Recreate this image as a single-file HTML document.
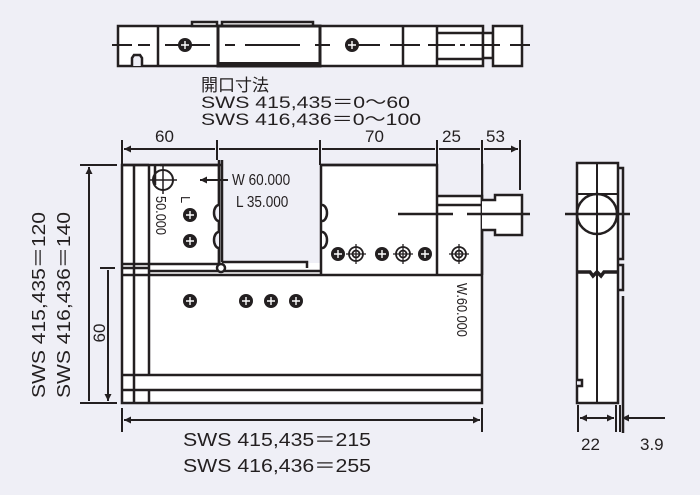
<!DOCTYPE html>
<html><head><meta charset="utf-8"><style>
html,body{margin:0;padding:0;background:#efeff6;}
svg{display:block}
text{font-family:"Liberation Sans","Noto Sans CJK JP",sans-serif;fill:#231f20}
</style></head><body>
<svg width="700" height="495" viewBox="0 0 700 495" xmlns="http://www.w3.org/2000/svg">
<defs>
<marker id="a" viewBox="0 0 10 10" refX="10" refY="5" markerWidth="10" markerHeight="7" orient="auto-start-reverse" markerUnits="userSpaceOnUse"><path d="M0,0L10,5L0,10z" fill="#231f20"/></marker>
</defs>
<g stroke="#231f20" stroke-width="2.5" fill="none">
<rect x="118" y="26" width="365" height="40" fill="#fff"/>
<rect x="192" y="22" width="25" height="4" fill="#fff"/>
<rect x="222" y="22" width="91" height="4" fill="#fff"/>
<rect x="218" y="26" width="102" height="40" stroke-width="3"/>
<line x1="218" y1="64" x2="320" y2="64" stroke-width="4"/>
<line x1="158" y1="26" x2="158" y2="66"/>
<line x1="403" y1="26" x2="403" y2="66"/>
<line x1="437" y1="26" x2="437" y2="66"/>
<line x1="437" y1="33" x2="483" y2="33"/><line x1="437" y1="59" x2="483" y2="59"/>
<rect x="483" y="33" width="10" height="25" fill="#fff"/>
<rect x="493" y="26" width="29" height="40" fill="#fff"/>
<path d="M132,66V58L134,55H140L142,58V66" fill="#efeff6"/>
<path d="M112,45H132M138,45H150M165,45H210M225,45H235M245,45H300M315,45H330M345,45H380M390,45H420M428,45H455M460,45H465M470,45H500M510,45H530" stroke-width="2"/>
<rect x="122" y="165" width="360" height="238" fill="#fff"/>
<rect x="222" y="163" width="99" height="100" fill="#efeff6" stroke="none"/>
<rect x="437" y="163" width="46" height="33" fill="#efeff6" stroke="none"/>
<path d="M122,165H149M149,165V265M155,165V185M160,165H219V265" />
<path d="M134,165V403M149,265V375M149,390V403"/>
<path d="M122,264H222M122,268H149M149,271H320M122,275H482"/>
<path d="M219,160V270M222,160V262M222,262H307V268" />
<path d="M321,165H437V275M321,165V275M437,196H482V275M437,205H482"/>
<path d="M122,375H482M122,390H482"/>
<circle cx="221" cy="268" r="4" fill="#fff"/>
<path d="M219,205a5,8 0 0 0 0,16M219,232a5,8 0 0 0 0,16" fill="#efeff6"/>
<path d="M322,205a5,8 0 0 1 0,16M322,232a5,8 0 0 1 0,16" fill="#fff"/>
<path d="M482,200H495V195H522V235H495V230H482" fill="#fff"/>
<path d="M398,214H453M467,214H530"/>
<circle cx="163" cy="180" r="10" stroke-width="2"/>
<path d="M150,180H177M163,166V194" stroke-width="1.5"/>
<path d="M122,140V165M217,140V160M320,140V165M437,140V165M482,140V196M520,140V190" stroke-width="2"/>
<path d="M124,149H215M219,149H318M322,149H435M439,149H480M484,149H518" stroke-width="2" marker-start="url(#a)" marker-end="url(#a)"/>
<path d="M80,165H117M80,403H117M100,268H115" stroke-width="2"/>
<path d="M89,167V401M108,270V401" stroke-width="2" marker-start="url(#a)" marker-end="url(#a)"/>
<path d="M122,408V432M482,408V432" stroke-width="2"/>
<path d="M124,420H480" stroke-width="2" marker-start="url(#a)" marker-end="url(#a)"/>
<path d="M228,180H200" stroke-width="2" marker-end="url(#a)"/>
<rect x="577" y="163" width="41" height="240" fill="#fff"/>
<path d="M577,194H618M597,163V403" stroke-width="2"/>
<circle cx="597" cy="214" r="20"/>
<path d="M565,214H630"/>
<path d="M619,168H623V259H619M619,265H623V290H619M623,296V433" />
<path d="M577,272H590L593,276L597,272L601,276L604,272H618" stroke-width="3.5"/>
<path d="M577,380H582V386H577" fill="#efeff6"/>
<path d="M578,405V432M616,405V432M620,405V432" stroke-width="2"/>
<path d="M580,418H614" stroke-width="2" marker-start="url(#a)" marker-end="url(#a)"/>
<path d="M665,418H622" stroke-width="2" marker-end="url(#a)"/>
</g>
<g fill="#231f20">
<circle cx="185" cy="45" r="7"/><circle cx="352" cy="45" r="7"/>
<circle cx="190" cy="215" r="7"/><circle cx="190" cy="241" r="7"/>
<circle cx="338" cy="254" r="7"/><circle cx="382" cy="254" r="7"/><circle cx="425" cy="254" r="7"/>
<circle cx="190" cy="301" r="7"/><circle cx="246" cy="301" r="7"/><circle cx="271" cy="301" r="7"/><circle cx="296" cy="301" r="7"/>
</g>
<g fill="none" stroke="#fff" stroke-width="1.4">
<path d="M181,45h8M185,41v8M348,45h8M352,41v8M186,215h8M190,211v8M186,241h8M190,237v8M334,254h8M338,250v8M378,254h8M382,250v8M421,254h8M425,250v8M186,301h8M190,297v8M242,301h8M246,297v8M267,301h8M271,297v8M292,301h8M296,297v8"/>
</g>
<g fill="#fff" stroke="#231f20" stroke-width="1.8">
<circle cx="356" cy="254" r="7"/><circle cx="403" cy="254" r="7"/><circle cx="459" cy="254" r="7"/>
<circle cx="356" cy="254" r="3.5" fill="none"/><circle cx="403" cy="254" r="3.5" fill="none"/><circle cx="459" cy="254" r="3.5" fill="none"/>
<path d="M346,254h20M356,244v20M393,254h20M403,244v20M449,254h20M459,244v20" stroke-width="1.3"/>
</g>
<text x="201" y="91" font-size="17">開口寸法</text>
<text x="201" y="108" font-size="17" textLength="209" lengthAdjust="spacingAndGlyphs">SWS 415,435＝0～60</text>
<text x="201" y="125" font-size="17" textLength="220" lengthAdjust="spacingAndGlyphs">SWS 416,436＝0～100</text>
<text x="155" y="142" font-size="17">60</text>
<text x="365" y="142" font-size="17">70</text>
<text x="442" y="142" font-size="17">25</text>
<text x="486" y="142" font-size="17">53</text>
<text x="232" y="185" font-size="16" transform="translate(232,185) scale(0.85,1) translate(-232,-185)">W 60.000</text>
<text x="236" y="207" font-size="16" transform="translate(236,207) scale(0.85,1) translate(-236,-207)">L 35.000</text>
<text font-size="15" transform="translate(156,196) rotate(90) scale(0.85,1)">50.000</text>
<text font-size="13" transform="translate(181,196) rotate(90)">L</text>
<text font-size="15" transform="translate(457,283) rotate(90) scale(0.85,1)">W.60.000</text>
<text font-size="18" text-anchor="middle" textLength="186" lengthAdjust="spacingAndGlyphs" transform="translate(45,305) rotate(-90)">SWS 415,435＝120</text>
<text font-size="18" text-anchor="middle" textLength="186" lengthAdjust="spacingAndGlyphs" transform="translate(70,305) rotate(-90)">SWS 416,436＝140</text>
<text font-size="17" text-anchor="middle" transform="translate(105,333) rotate(-90)">60</text>
<text x="183" y="446" font-size="18" textLength="188" lengthAdjust="spacingAndGlyphs">SWS 415,435＝215</text>
<text x="183" y="472" font-size="18" textLength="188" lengthAdjust="spacingAndGlyphs">SWS 416,436＝255</text>
<text x="581" y="450" font-size="17">22</text>
<text x="640" y="450" font-size="17">3.9</text>
</svg>
</body></html>
